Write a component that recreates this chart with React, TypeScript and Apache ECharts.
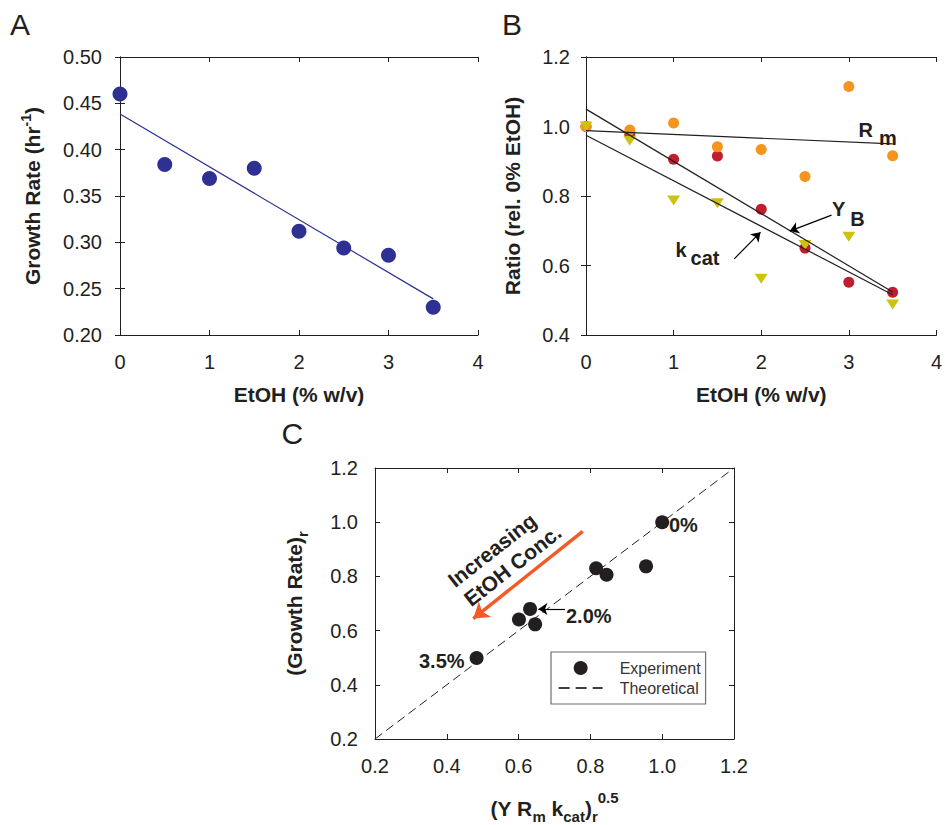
import React, { useEffect, useRef } from 'react';
import * as echarts from 'echarts';

const FONT = "'Liberation Sans', Arial, Helvetica, sans-serif";
const INK = '#231F20';

// ---------- Panel A ----------
const etohA = [0, 0.5, 1, 1.5, 2, 2.5, 3, 3.5];
const growthA = [0.46, 0.384, 0.369, 0.38, 0.312, 0.294, 0.286, 0.23];
const fitAx = [0, 3.5];
const fitAy = [0.4385, 0.239];

// ---------- Panel B ----------
const etohB = [0, 0.5, 1, 1.5, 2, 2.5, 3, 3.5];
const rmB = [1.0, 0.99, 1.01, 0.942, 0.934, 0.856, 1.115, 0.916];
const yieldB = [1.0, 0.976, 0.906, 0.915, 0.762, 0.65, 0.552, 0.523];
const kcatB = [1.0, 0.959, 0.787, 0.779, 0.562, 0.659, 0.683, 0.488];
const fitBx = [0, 3.5];
const fitRm = [0.988, 0.95];
const fitYield = [1.05, 0.524];
const fitKcat = [0.975, 0.516];
const arrowYB = [[2.803, 0.745], [2.326, 0.699]];
const arrowKcat = [[1.692, 0.619], [1.992, 0.696]];

// ---------- Panel C ----------
const modelC = [1.0, 0.816, 0.845, 0.955, 0.632, 0.601, 0.646, 0.483];
const growthC = [1.0, 0.83, 0.806, 0.837, 0.68, 0.641, 0.623, 0.499];
const theoryC = [0.2, 1.2];
const arrow20 = [[0.729, 0.68], [0.655, 0.68]];
const arrowConc = [[0.7786, 0.9664], [0.4738, 0.6445]];

// axis ranges [min, max, interval]
const xRangeA = [0, 4, 1];
const yRangeA = [0.2, 0.5, 0.05];
const xRangeB = [0, 4, 1];
const yRangeB = [0.4, 1.2, 0.2];
const xRangeC = [0.2, 1.2, 0.2];
const yRangeC = [0.2, 1.2, 0.2];

const zip = (xs: number[], ys: number[]) => xs.map((x, i) => [x, ys[i]]);

const nameBold = { fontSize: 21, fontWeight: 'bold' as const, fontFamily: FONT, color: INK };

function xAxes(grid: number, r: number[], digits: number, name: any, nameGap: number, rich?: any) {
  const base = {
    gridIndex: grid,
    type: 'value',
    min: r[0],
    max: r[1],
    interval: r[2],
    axisLine: { show: true, lineStyle: { color: INK, width: 1 } },
    axisTick: { show: true, inside: true, length: 5, lineStyle: { color: INK, width: 1 } },
    splitLine: { show: false },
  };
  return [
    {
      ...base,
      position: 'bottom',
      name,
      nameLocation: 'middle',
      nameGap,
      nameTextStyle: { ...nameBold, rich },
      axisLabel: {
        color: INK,
        fontSize: 20,
        fontFamily: FONT,
        margin: 17,
        formatter: (v: number) => v.toFixed(digits),
      },
    },
    { ...base, position: 'top', axisLabel: { show: false } },
  ];
}

function yAxes(grid: number, r: number[], digits: number, name: any, nameGap: number, margin: number, rich?: any) {
  const base = {
    gridIndex: grid,
    type: 'value',
    min: r[0],
    max: r[1],
    interval: r[2],
    axisLine: { show: true, lineStyle: { color: INK, width: 1 } },
    axisTick: { show: true, inside: true, length: 5, lineStyle: { color: INK, width: 1 } },
    splitLine: { show: false },
  };
  return [
    {
      ...base,
      position: 'left',
      name,
      nameLocation: 'middle',
      nameGap,
      nameRotate: 90,
      nameTextStyle: { ...nameBold, rich },
      axisLabel: {
        color: INK,
        fontSize: 20,
        fontFamily: FONT,
        margin,
        formatter: (v: number) => v.toFixed(digits),
      },
    },
    { ...base, position: 'right', axisLabel: { show: false } },
  ];
}

const mainTok = (pb: number) => ({ ...nameBold, verticalAlign: 'bottom', padding: [0, 0, pb, 0] });
const smallTok = (pb: number) => ({
  fontSize: 15,
  fontWeight: 'bold',
  fontFamily: FONT,
  color: INK,
  verticalAlign: 'bottom',
  padding: [0, 0, pb, 0],
});

const arrowLine = (pts: number[][]) => [{ coord: pts[0] }, { coord: pts[1] }];

function buildOption(): any {
  const lineStyleFit = (color: string) => ({ color, width: 1.2 });
  return {
    animation: false,
    backgroundColor: '#ffffff',
    textStyle: { fontFamily: FONT },
    grid: [
      { left: 120, top: 57, width: 358, height: 278 },
      { left: 586, top: 57, width: 360, height: 278 },
      { left: 375, top: 468, width: 359, height: 278 },
    ],
    xAxis: [
      ...xAxes(0, xRangeA, 0, 'EtOH (% w/v)', 49),
      ...xAxes(1, xRangeB, 0, 'EtOH (% w/v)', 49),
      ...xAxes(
        2,
        xRangeC,
        1,
        '{m|(Y R}{b|m}{m| k}{b|cat}{m|)}{b|r}{p|0.5}',
        51,
        { m: mainTok(5), b: smallTok(0), p: smallTok(19) }
      ),
    ],
    yAxis: [
      ...yAxes(0, yRangeA, 2, '{m|Growth Rate (hr}{p|-1}{m|)}', 77, 18, {
        m: mainTok(0),
        p: { ...smallTok(10), fontSize: 14 },
      }),
      ...yAxes(1, yRangeB, 1, 'Ratio (rel. 0% EtOH)', 63, 16),
      ...yAxes(2, yRangeC, 1, '{m|(Growth Rate)}{b|r}', 65, 17, { m: mainTok(5), b: smallTok(0) }),
    ],
    legend: {
      data: [
        { name: 'Experiment', icon: 'circle' },
        {
          name: 'Theoretical',
          itemStyle: { color: 'rgba(0,0,0,0)', borderColor: 'rgba(0,0,0,0)', borderWidth: 0 },
          lineStyle: { color: '#000000', width: 1.3, type: [11, 6], opacity: 1 },
        },
      ],
      orient: 'vertical',
      left: 551,
      top: 652,
      padding: [8, 5, 8, 7],
      itemGap: 4,
      itemWidth: 44,
      itemHeight: 14,
      borderColor: '#6D6E71',
      borderWidth: 1.2,
      backgroundColor: '#ffffff',
      selectedMode: false,
      textStyle: { fontSize: 16, fontFamily: FONT, color: '#333333', padding: [0, 0, 0, 12] },
    },
    series: [
      // Panel A
      {
        name: 'Growth rate',
        type: 'scatter',
        xAxisIndex: 0,
        yAxisIndex: 0,
        data: zip(etohA, growthA),
        symbolSize: 15,
        itemStyle: { color: '#2E3192', opacity: 1 },
        silent: true,
      },
      {
        name: 'Growth rate fit',
        type: 'line',
        xAxisIndex: 0,
        yAxisIndex: 0,
        data: zip(fitAx, fitAy),
        symbol: 'none',
        lineStyle: lineStyleFit('#2E3192'),
        silent: true,
      },
      // Panel B
      {
        name: 'Y',
        type: 'scatter',
        xAxisIndex: 2,
        yAxisIndex: 2,
        data: zip(etohB, yieldB),
        symbolSize: 11,
        itemStyle: { color: '#BE1E2D', opacity: 1 },
        silent: true,
      },
      {
        name: 'Rm',
        type: 'scatter',
        xAxisIndex: 2,
        yAxisIndex: 2,
        data: zip(etohB, rmB),
        symbolSize: 11,
        itemStyle: { color: '#F7941D', opacity: 1 },
        silent: true,
      },
      {
        name: 'kcat',
        type: 'scatter',
        xAxisIndex: 2,
        yAxisIndex: 2,
        data: zip(etohB, kcatB),
        symbol: 'triangle',
        symbolRotate: 180,
        symbolSize: [13, 10],
        itemStyle: { color: '#CBC30E', opacity: 1 },
        silent: true,
      },
      {
        name: 'Rm fit',
        type: 'line',
        xAxisIndex: 2,
        yAxisIndex: 2,
        data: zip(fitBx, fitRm),
        symbol: 'none',
        lineStyle: lineStyleFit(INK),
        silent: true,
      },
      {
        name: 'Y fit',
        type: 'line',
        xAxisIndex: 2,
        yAxisIndex: 2,
        data: zip(fitBx, fitYield),
        symbol: 'none',
        lineStyle: lineStyleFit(INK),
        silent: true,
        markLine: {
          silent: true,
          symbol: ['none', 'arrow'],
          symbolSize: 9,
          label: { show: false },
          lineStyle: { color: '#000000', width: 1.2, type: 'solid' },
          data: [arrowLine(arrowYB), arrowLine(arrowKcat)],
        },
      },
      {
        name: 'kcat fit',
        type: 'line',
        xAxisIndex: 2,
        yAxisIndex: 2,
        data: zip(fitBx, fitKcat),
        symbol: 'none',
        lineStyle: lineStyleFit(INK),
        silent: true,
      },
      // Panel C
      {
        name: 'Theoretical',
        type: 'line',
        xAxisIndex: 4,
        yAxisIndex: 4,
        data: zip(theoryC, theoryC),
        symbol: 'none',
        itemStyle: { color: INK },
        lineStyle: { color: INK, width: 1, type: [9, 5] },
        silent: true,
        markLine: {
          silent: true,
          symbol: ['none', 'arrow'],
          symbolSize: 9,
          label: { show: false },
          lineStyle: { color: '#000000', width: 1.2, type: 'solid' },
          data: [arrowLine(arrow20)],
        },
      },
      {
        name: 'Experiment',
        type: 'scatter',
        xAxisIndex: 4,
        yAxisIndex: 4,
        data: zip(modelC, growthC),
        symbolSize: 14,
        itemStyle: { color: INK, opacity: 1 },
        silent: true,
        markLine: {
          silent: true,
          symbol: ['none', 'arrow'],
          symbolSize: 15,
          label: { show: false },
          lineStyle: { color: '#F15A29', width: 3.5, type: 'solid' },
          data: [arrowLine(arrowConc)],
        },
      },
    ],
    graphic: [
      { type: 'text', x: 10, y: 9, silent: true, style: { text: 'A', font: `30px ${FONT}`, fill: INK, align: 'left', verticalAlign: 'top' } },
      { type: 'text', x: 502, y: 9, silent: true, style: { text: 'B', font: `30px ${FONT}`, fill: INK, align: 'left', verticalAlign: 'top' } },
      { type: 'text', x: 281.5, y: 418, silent: true, style: { text: 'C', font: `30px ${FONT}`, fill: INK, align: 'left', verticalAlign: 'top' } },
      {
        type: 'text',
        x: 858.5,
        y: 120,
        silent: true,
        style: {
          text: '{a|R}{b|m}',
          align: 'left',
          verticalAlign: 'top',
          rich: {
            a: { font: `bold 20px ${FONT}`, fill: INK, verticalAlign: 'bottom', padding: [0, 6, 8, 0] },
            b: { font: `bold 20px ${FONT}`, fill: INK, verticalAlign: 'bottom' },
          },
        },
      },
      {
        type: 'text',
        x: 832,
        y: 199,
        silent: true,
        style: {
          text: '{a|Y}{b|B}',
          align: 'left',
          verticalAlign: 'top',
          rich: {
            a: { font: `bold 20px ${FONT}`, fill: INK, verticalAlign: 'bottom', padding: [0, 5, 10, 0] },
            b: { font: `bold 20px ${FONT}`, fill: INK, verticalAlign: 'bottom' },
          },
        },
      },
      {
        type: 'text',
        x: 675.5,
        y: 240,
        silent: true,
        style: {
          text: '{a|k}{b|cat}',
          align: 'left',
          verticalAlign: 'top',
          rich: {
            a: { font: `bold 20px ${FONT}`, fill: INK, verticalAlign: 'bottom', padding: [0, 4, 8, 0] },
            b: { font: `bold 20px ${FONT}`, fill: INK, verticalAlign: 'bottom' },
          },
        },
      },
      { type: 'text', x: 669, y: 525, silent: true, style: { text: '0%', font: `bold 20px ${FONT}`, fill: INK, align: 'left', verticalAlign: 'middle' } },
      { type: 'text', x: 566, y: 615.5, silent: true, style: { text: '2.0%', font: `bold 20px ${FONT}`, fill: INK, align: 'left', verticalAlign: 'middle' } },
      { type: 'text', x: 419, y: 660.5, silent: true, style: { text: '3.5%', font: `bold 20px ${FONT}`, fill: INK, align: 'left', verticalAlign: 'middle' } },
      {
        type: 'text',
        x: 492,
        y: 550,
        rotation: (38 * Math.PI) / 180,
        silent: true,
        style: { text: 'Increasing', font: `bold 21px ${FONT}`, fill: INK, align: 'center', verticalAlign: 'middle' },
      },
      {
        type: 'text',
        x: 512.5,
        y: 565.5,
        rotation: (38 * Math.PI) / 180,
        silent: true,
        style: { text: 'EtOH Conc.', font: `bold 21px ${FONT}`, fill: INK, align: 'center', verticalAlign: 'middle' },
      },
    ],
  };
}

export default function App() {
  const ref = useRef<HTMLDivElement>(null);
  useEffect(() => {
    if (!ref.current) return;
    const chart = echarts.init(ref.current, null, { renderer: 'svg' });
    chart.setOption(buildOption());
    return () => chart.dispose();
  }, []);
  return (
    <div
      ref={ref}
      style={{ position: 'absolute', left: 0, top: 0, width: 945, height: 825, background: '#ffffff' }}
    />
  );
}
